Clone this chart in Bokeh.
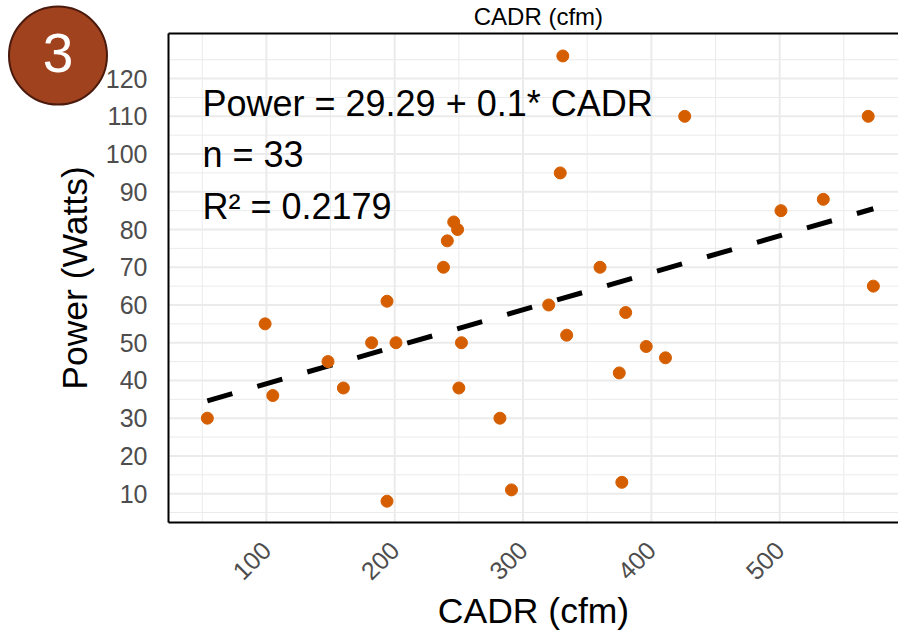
import math
from bokeh.plotting import figure
from bokeh.models import Label, FixedTicker, LinearAxis, Range1d
from bokeh.core.properties import value
from bokeh.embed import file_html
from bokeh.resources import INLINE

# ---- data ----
cadr = [54, 99, 105, 148, 160, 182, 194, 201, 194, 238, 241, 246, 249, 252, 250,
        282, 291, 320, 331, 329, 334, 360, 380, 375, 377, 396, 411, 426, 501, 534,
        569, 573]
power = [30, 55, 36, 45, 38, 50, 61, 50, 8, 70, 77, 82, 80, 50, 38,
         30, 11, 60, 126, 95, 52, 70, 58, 42, 13, 49, 46, 110, 85, 88,
         110, 65]
trend_x = [54, 573]
trend_y = [34.6, 85.5]
x_ticks = [100, 200, 300, 400, 500]
x_minor = [50, 150, 250, 350, 450, 550]
y_ticks = [10, 20, 30, 40, 50, 60, 70, 80, 90, 100, 110, 120]
y_minor = [5, 15, 25, 35, 45, 55, 65, 75, 85, 95, 105, 115, 125]
annotation_lines = ["Power = 29.29 + 0.1* CADR", "n = 33", "R\u00b2 = 0.2179"]
x_title = "CADR (cfm)"
y_title = "Power (Watts)"
badge_text = "3"

# ---- layout / style ----
FONT = "Liberation Sans"
POINT_COLOR = "#D55E00"
GRID = "#EBEBEB"
TICK_COLOR = "#4D4D4D"
# plotting panel limits (data units)
X_LO, X_HI = 23.7, 600.4
Y_LO, Y_HI = 2.3, 131.9

p = figure(width=898, height=632, title=None,
           x_range=Range1d(-107.2, 592.6), y_range=Range1d(-26.8, 140.7),
           output_backend="svg", toolbar_location=None,
           min_border_left=0, min_border_right=0,
           min_border_top=0, min_border_bottom=0,
           x_axis_label=x_title, y_axis_label=y_title)
p.outline_line_color = None
p.background_fill_color = "white"
p.border_fill_color = "white"
p.xgrid.visible = False
p.ygrid.visible = False

# panel grid lines (drawn from the tick lists)
p.segment(x0=x_minor, y0=[Y_LO] * len(x_minor), x1=x_minor, y1=[Y_HI] * len(x_minor),
          line_color=GRID, line_width=1)
p.segment(x0=[X_LO] * len(y_minor), y0=y_minor, x1=[X_HI] * len(y_minor), y1=y_minor,
          line_color=GRID, line_width=1)
p.segment(x0=x_ticks, y0=[Y_LO] * len(x_ticks), x1=x_ticks, y1=[Y_HI] * len(x_ticks),
          line_color=GRID, line_width=2)
p.segment(x0=[X_LO] * len(y_ticks), y0=y_ticks, x1=[X_HI] * len(y_ticks), y1=y_ticks,
          line_color=GRID, line_width=2)

xt = FixedTicker(ticks=x_ticks, minor_ticks=x_minor)
yt = FixedTicker(ticks=y_ticks, minor_ticks=y_minor)
p.xaxis.ticker = xt
p.yaxis.ticker = yt
p.xaxis.fixed_location = Y_LO
p.xaxis.bounds = (X_LO, X_HI)
p.yaxis.fixed_location = X_LO
p.yaxis.bounds = (Y_LO, Y_HI)

for ax in (p.xaxis, p.yaxis):
    ax.axis_line_color = "black"
    ax.axis_line_width = 2
    ax.major_tick_line_color = None
    ax.minor_tick_line_color = None
    ax.major_label_text_font = FONT
    ax.major_label_text_font_size = "25px"
    ax.major_label_text_color = TICK_COLOR
    ax.axis_label_text_font = FONT
    ax.axis_label_text_font_size = "35.5px"
    ax.axis_label_text_font_style = "normal"
    ax.axis_label_text_color = "black"

p.xaxis.major_label_orientation = math.pi / 4
p.xaxis.major_label_standoff = 17
p.xaxis.axis_label_standoff = 0
p.yaxis.major_label_standoff = 15
p.yaxis.axis_label_standoff = 8

top_axis = LinearAxis(ticker=FixedTicker(ticks=[]), fixed_location=Y_HI,
                      bounds=(X_LO, X_HI), axis_line_color="black",
                      axis_line_width=2, major_tick_line_color=None,
                      minor_tick_line_color=None, major_label_text_font_size="0px")
p.add_layout(top_axis, "above")

# regression line
p.line(trend_x, trend_y, line_color="black", line_width=5, line_dash="26 26")

# points
p.scatter(cadr, power, size=12, fill_color=POINT_COLOR, line_color=POINT_COLOR)

# annotation
for txt, yy in zip(annotation_lines, [113.45, 99.8, 86.2]):
    p.add_layout(Label(x=50.2, y=yy, text=txt, text_font=FONT, text_font_size="36px",
                       text_color="black", text_baseline="alphabetic", text_align="left"))

# title of the panel above (cut by the top edge in the original; kept visible here)
p.text(x=[312.0], y=[136.5], text=[x_title], text_font=value(FONT),
       text_font_size="24px", text_color="black", text_align="center",
       text_baseline="alphabetic")

# badge
p.scatter(x=[-62.4], y=[126.1], size=98, marker="circle", fill_color="#A1421F",
          line_color="#4A1A0C", line_width=2)
p.text(x=[-62.4], y=[126.9], text=[badge_text], text_font=value(FONT),
       text_font_size="55px", text_color="white", text_align="center",
       text_baseline="middle")

open("out.html", "w").write(file_html(p, INLINE))
